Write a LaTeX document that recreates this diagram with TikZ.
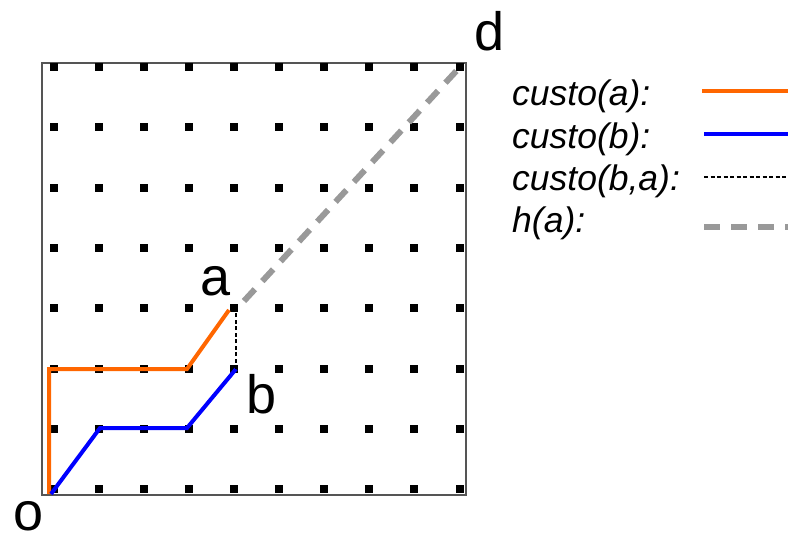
\documentclass[tikz,border=0pt]{standalone}
\usepackage{fontspec}
\setmainfont{Liberation Sans}
\definecolor{corange}{HTML}{FF6600}
\definecolor{cblue}{HTML}{0000FF}
\definecolor{cgray}{HTML}{999999}
\definecolor{cbox}{HTML}{555555}
\begin{document}
\begin{tikzpicture}[x=1pt,y=-1pt,
  lbl/.style={font=\fontsize{54}{60}\selectfont, inner sep=0pt, anchor=base west},
  leg/.style={font=\fontsize{35.5}{40}\selectfont\itshape, inner sep=0pt, anchor=base west},
  boxline/.style={draw=cbox, line width=1.5pt},
  costa/.style={draw=corange, line width=4pt, line join=miter},
  costb/.style={draw=cblue, line width=4pt, line join=miter},
  costba/.style={draw=black, line width=2pt, dash pattern=on 4pt off 2.5pt},
  heur/.style={draw=cgray, line width=6pt, dash pattern=on 16pt off 11pt}]
\useasboundingbox (0,0) rectangle (788,536);
\draw[boxline] (42,63) rectangle (466,495);
\foreach \x in {54,99,144,189,234,279,324,369,414,460}
  \foreach \y in {67,127,188,248,308,369,429,489}
    \fill[black] (\x-4.25,\y-4.25) rectangle (\x+4.25,\y+4.25);
% path coordinates
\coordinate (o0) at (49,494);
\coordinate (o1) at (49,369);
\coordinate (o2) at (187,369);
\coordinate (pa) at (229,310);
\coordinate (b0) at (51,494);
\coordinate (b1) at (100,428);
\coordinate (b2) at (187,428);
\coordinate (pb) at (236,369);
\coordinate (pa2) at (236,310);
\coordinate (h0) at (244,301);
\coordinate (h1) at (460,67);
\draw[costa] (o0) -- (o1) -- (o2) -- (pa);
\draw[costb] (b0) -- (b1) -- (b2) -- (pb);
\draw[costba] (pb) -- (pa2);
\draw[heur] (h0) -- (h1);
% labels
\node[lbl] (la) at (200,295) {a};
\node[lbl] (lb) at (246,413) {b};
\node[lbl] (ld) at (474,50) {d};
\node[lbl] (lo) at (13,530) {o};
% legend
\node[leg] (t1) at (512,105) {custo(a):};
\node[leg] (t2) at (512,148) {custo(b):};
\node[leg] (t3) at (512,190) {custo(b,a):};
\node[leg] (t4) at (512,232) {h(a):};
\coordinate (l1a) at (702,91);  \coordinate (l1b) at (788,91);
\coordinate (l2a) at (704,134); \coordinate (l2b) at (788,134);
\coordinate (l3a) at (704,177); \coordinate (l3b) at (788,177);
\coordinate (l4a) at (704,227); \coordinate (l4b) at (788,227);
\draw[costa] (l1a) -- (l1b);
\draw[costb] (l2a) -- (l2b);
\draw[costba] (l3a) -- (l3b);
\draw[heur] (l4a) -- (l4b);
\end{tikzpicture}
\end{document}
